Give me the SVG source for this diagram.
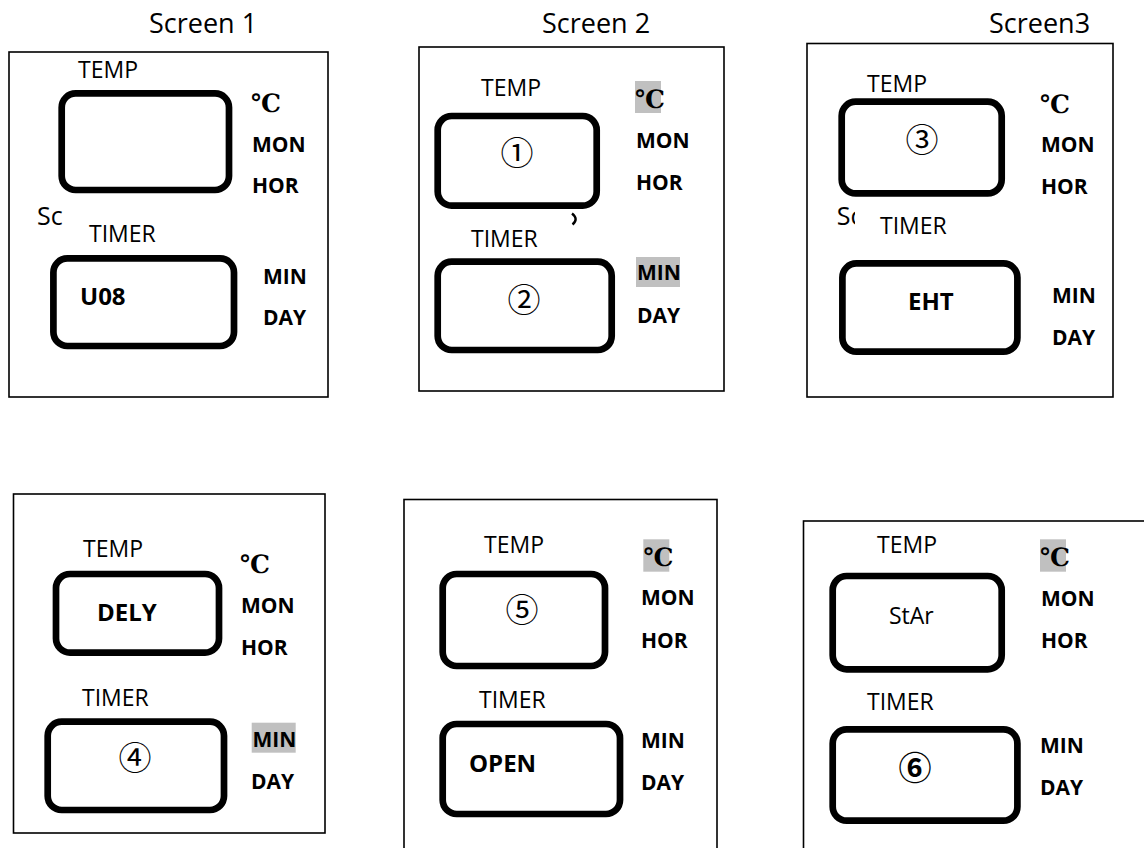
<svg xmlns="http://www.w3.org/2000/svg" width="1144" height="848" viewBox="0 0 1144 848">
<style>
.frame{fill:none;stroke:#000;stroke-width:1.6}
.lcd{fill:none;stroke:#000;stroke-width:6.7}
.title{font-family:'Open Sans',sans-serif;font-size:27px;fill:#000}
.lbl{font-family:'Open Sans',sans-serif;font-size:23px;fill:#000}
.sc{font-family:'Open Sans',sans-serif;font-size:25px;fill:#000}
.unit{font-family:'Open Sans',sans-serif;font-weight:bold;font-size:21px;fill:#000}
.val{font-family:'Open Sans',sans-serif;font-weight:bold;font-size:24px;fill:#000}
.deg{font-family:'Liberation Serif','DejaVu Serif','Noto Sans CJK SC',serif;font-weight:bold;font-size:25px;fill:#000}
.num{font-family:'Noto Sans CJK SC',sans-serif;font-size:33px;fill:#000;text-anchor:middle}
.hl{fill:#c0c0c0}
</style>
<defs>
<clipPath id="clipSc3"><rect x="830" y="200" width="25" height="35"/></clipPath>
</defs>
<rect width="1144" height="848" fill="#fff"/>

<g id="screen1">
<text class="title" x="149" y="33">Screen 1</text>
<rect class="frame" x="9" y="52" width="319" height="345"/>
<text class="lbl" x="78" y="78">TEMP</text>
<rect class="lcd" x="61.7" y="93.4" width="167.3" height="96.6" rx="14"/>
<text class="deg" x="251" y="112">℃</text>
<text class="unit" x="252" y="152">MON</text>
<text class="unit" x="252" y="193">HOR</text>
<text class="sc" x="37" y="225">Sc</text>
<text class="lbl" x="89" y="242">TIMER</text>
<rect class="lcd" x="53.4" y="258.4" width="180.6" height="87.6" rx="14"/>
<text class="val" x="80" y="305">U08</text>
<text class="unit" x="263" y="284">MIN</text>
<text class="unit" x="263" y="325">DAY</text>
</g>

<g id="screen2">
<text class="title" x="542" y="33">Screen 2</text>
<rect class="frame" x="419" y="47" width="305" height="344"/>
<text class="lbl" x="481" y="96">TEMP</text>
<rect class="lcd" x="437.7" y="116" width="159" height="89.6" rx="14"/>
<text class="num" x="517" y="165">①</text>
<rect class="hl" x="635" y="81" width="26" height="32"/>
<text class="deg" x="635" y="108">℃</text>
<text class="unit" x="636" y="148">MON</text>
<text class="unit" x="636" y="190">HOR</text>
<path d="M572 213.5 Q579 219 572.5 224.5" fill="none" stroke="#000" stroke-width="2.4"/>
<text class="lbl" x="471" y="247">TIMER</text>
<rect class="lcd" x="437.7" y="261.7" width="174" height="88.3" rx="14"/>
<text class="num" x="524" y="312">②</text>
<rect class="hl" x="636" y="257" width="44" height="30"/>
<text class="unit" x="637" y="280">MIN</text>
<text class="unit" x="637" y="323">DAY</text>
</g>

<g id="screen3">
<text class="title" x="989" y="33">Screen3</text>
<rect class="frame" x="807" y="43.5" width="306" height="353.5"/>
<text class="lbl" x="867" y="92">TEMP</text>
<rect class="lcd" x="841.7" y="101.7" width="160" height="91.7" rx="14"/>
<text class="num" x="922" y="152">③</text>
<text class="deg" x="1040" y="113">℃</text>
<text class="unit" x="1041" y="152">MON</text>
<text class="unit" x="1041" y="194">HOR</text>
<text class="sc" x="836.7" y="225" clip-path="url(#clipSc3)">Sc</text>
<text class="lbl" x="880" y="234">TIMER</text>
<rect class="lcd" x="842.4" y="263.4" width="175" height="88.3" rx="14"/>
<text class="val" x="908" y="310">EHT</text>
<text class="unit" x="1052" y="303">MIN</text>
<text class="unit" x="1052" y="345">DAY</text>
</g>

<g id="screen4">
<rect class="frame" x="13.5" y="494" width="311.5" height="339"/>
<text class="lbl" x="83" y="557">TEMP</text>
<rect class="lcd" x="56" y="574" width="163" height="78.6" rx="14"/>
<text class="val" x="97" y="621">DELY</text>
<text class="deg" x="240" y="573">℃</text>
<text class="unit" x="241" y="613">MON</text>
<text class="unit" x="241" y="655">HOR</text>
<text class="lbl" x="82" y="706">TIMER</text>
<rect class="lcd" x="47.7" y="721.7" width="176.3" height="88.3" rx="14"/>
<text class="num" x="135" y="770">④</text>
<rect class="hl" x="251.7" y="722.7" width="44" height="30"/>
<text class="unit" x="252.5" y="746.5">MIN</text>
<text class="unit" x="251" y="789">DAY</text>
</g>

<g id="screen5">
<rect class="frame" x="404" y="499.5" width="313" height="370"/>
<text class="lbl" x="484" y="553">TEMP</text>
<rect class="lcd" x="442.7" y="574" width="162.3" height="92" rx="14"/>
<text class="num" x="522" y="622">⑤</text>
<rect class="hl" x="643.3" y="539.3" width="26" height="32.4"/>
<text class="deg" x="643.5" y="566">℃</text>
<text class="unit" x="641" y="605">MON</text>
<text class="unit" x="641" y="648">HOR</text>
<text class="lbl" x="479" y="708">TIMER</text>
<rect class="lcd" x="442.7" y="724" width="177.3" height="90" rx="14"/>
<text class="val" x="469" y="772">OPEN</text>
<text class="unit" x="641" y="748">MIN</text>
<text class="unit" x="641" y="790">DAY</text>
</g>

<g id="screen6">
<rect class="frame" x="803.5" y="521" width="360" height="349" stroke-width="2"/>
<text class="lbl" x="877" y="553">TEMP</text>
<rect class="lcd" x="832.7" y="576" width="169" height="93.3" rx="14"/>
<text class="lbl" x="889" y="624">StAr</text>
<rect class="hl" x="1040" y="539.3" width="26" height="32.4"/>
<text class="deg" x="1040" y="566">℃</text>
<text class="unit" x="1041" y="606">MON</text>
<text class="unit" x="1041" y="648">HOR</text>
<text class="lbl" x="867" y="710">TIMER</text>
<rect class="lcd" x="832.7" y="729.4" width="184.7" height="91.3" rx="14"/>
<text class="num" x="915" y="780" font-weight="bold">⑥</text>
<text class="unit" x="1040" y="753">MIN</text>
<text class="unit" x="1040" y="795">DAY</text>
</g>
</svg>
